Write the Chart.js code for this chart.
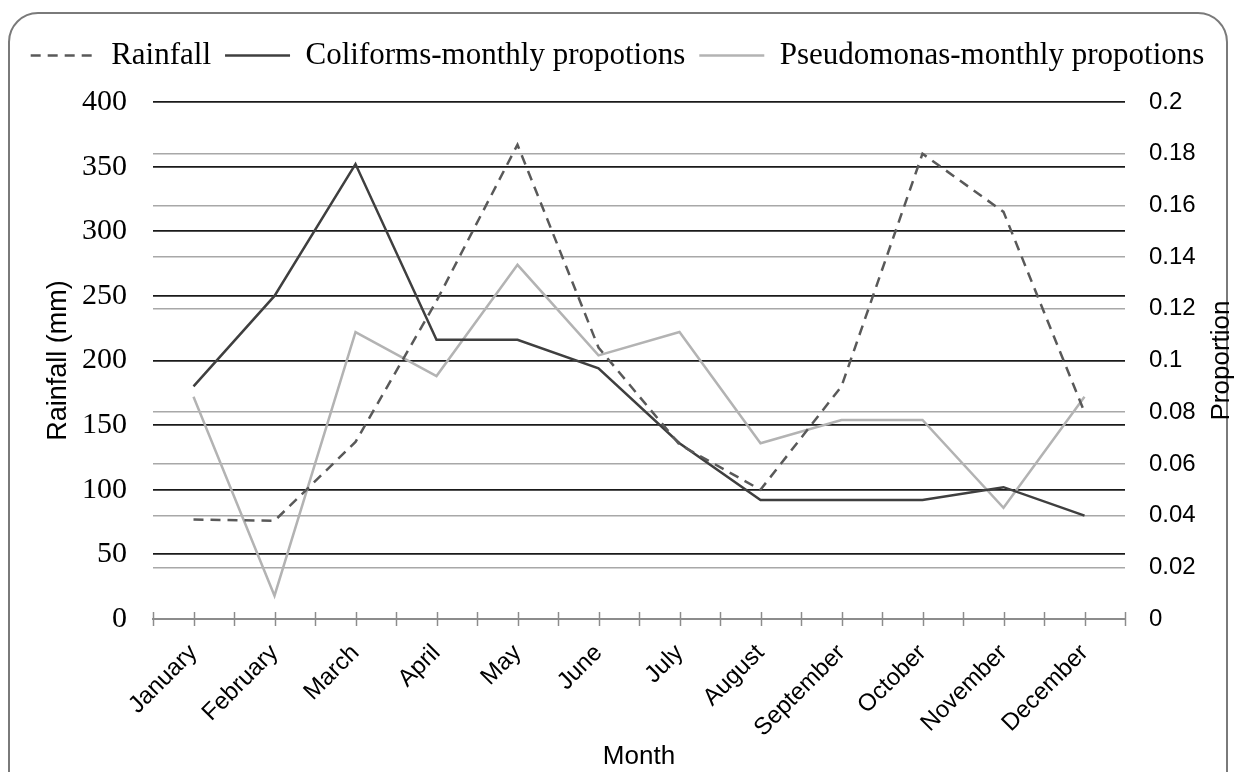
<!DOCTYPE html>
<html>
<head>
<meta charset="utf-8">
<script src="https://cdn.jsdelivr.net/npm/chart.js@4.4.1/dist/chart.umd.min.js"></script>
<style>
  html, body { margin: 0; padding: 0; background: #fff; overflow: hidden; }
  #frame {
    position: absolute; left: 8px; top: 12px; width: 1216px; height: 800px;
    border: 2px solid #7a7a7a; border-radius: 30px;
  }
  #wrap { position: absolute; left: 0; top: 0; width: 1235px; height: 772px; }
</style>
</head>
<body>
<div id="frame"></div>
<div id="wrap"><canvas id="rain_chart" width="1235" height="772"></canvas></div>
<script>
var months = ["January", "February", "March", "April", "May", "June",
              "July", "August", "September", "October", "November", "December"];

// mm, left axis
var rainfall = [77, 76, 137, 246, 367, 210, 135, 100, 180, 360, 315, 160];

// proportions, right axis
var coliforms   = [0.090, 0.125, 0.176, 0.108, 0.108, 0.097, 0.068, 0.046, 0.046, 0.046, 0.051, 0.040];
var pseudomonas = [0.086, 0.009, 0.111, 0.094, 0.137, 0.102, 0.111, 0.068, 0.077, 0.077, 0.043, 0.086];

var rainTicks = { min: 0, max: 400, step: 50 };
var propTicks = { min: 0, max: 0.2, step: 0.02 };

// small crossing tick marks on the month axis + right axis title
var axisExtras = {
  id: 'axisExtras',
  afterDraw: function (chart) {
    var ctx = chart.ctx;
    var xs = chart.scales.x;
    var area = chart.chartArea;
    ctx.save();
    ctx.strokeStyle = '#8c8c8c';
    ctx.lineWidth = 1.5;
    for (var i = 0; i <= months.length * 2; i++) {
      var px = Math.round(xs.getPixelForValue(i / 2 - 0.5)) + 0.5;
      ctx.beginPath();
      ctx.moveTo(px, area.bottom - 7);
      ctx.lineTo(px, area.bottom + 7);
      ctx.stroke();
    }
    ctx.translate(1222, (area.top + area.bottom) / 2);
    ctx.rotate(-Math.PI / 2);
    ctx.font = '26px "Liberation Sans"';
    ctx.textAlign = 'center';
    ctx.textBaseline = 'middle';
    ctx.fillStyle = '#000';
    ctx.fillText('Proportion', 0, 0);
    ctx.restore();
  }
};

var ctx = document.getElementById('rain_chart').getContext('2d');

var chartInstance = new Chart(ctx, {
  type: 'line',
  data: {
    labels: months,
    datasets: [
      {
        label: 'Rainfall',
        data: rainfall,
        yAxisID: 'y',
        borderColor: '#595959',
        borderWidth: 2.5,
        borderDash: [10, 7],
        pointRadius: 0,
        fill: false
      },
      {
        label: 'Coliforms-monthly propotions',
        data: coliforms,
        yAxisID: 'y1',
        borderColor: '#3f3f3f',
        borderWidth: 2.5,
        pointRadius: 0,
        fill: false
      },
      {
        label: 'Pseudomonas-monthly propotions',
        data: pseudomonas,
        yAxisID: 'y1',
        borderColor: '#b3b3b3',
        borderWidth: 2.5,
        pointRadius: 0,
        fill: false
      }
    ]
  },
  options: {
    responsive: false,
    maintainAspectRatio: false,
    animation: false,
    devicePixelRatio: 1,
    layout: { padding: { top: 26, left: 0, right: 0, bottom: 0 } },
    plugins: {
      tooltip: { enabled: false },
      legend: {
        position: 'top',
        labels: {
          usePointStyle: true,
          pointStyle: 'line',
          pointStyleWidth: 65,
          padding: 14,
          color: '#000',
          font: { family: 'Liberation Serif', size: 31 },
          generateLabels: function (chart) {
            var items = Chart.defaults.plugins.legend.labels.generateLabels(chart);
            items.forEach(function (item) {
              var ds = chart.data.datasets[item.datasetIndex];
              item.lineDash = ds.borderDash || [];
              item.strokeStyle = ds.borderColor;
              item.lineWidth = ds.borderWidth;
            });
            return items;
          }
        }
      },
      subtitle: {
        display: true,
        text: '',
        weight: 500,
        font: { size: 10 },
        padding: { top: 9, bottom: 0 }
      }
    },
    scales: {
      x: {
        type: 'category',
        offset: true,
        grid: { display: false, drawTicks: false },
        border: { display: true, color: '#8c8c8c', width: 2 },
        ticks: {
          autoSkip: false,
          minRotation: 45,
          maxRotation: 45,
          padding: 20,
          color: '#000',
          font: { family: 'Liberation Sans', size: 24 }
        },
        title: {
          display: true,
          text: 'Month',
          color: '#000',
          font: { family: 'Liberation Sans', size: 26 },
          padding: { top: 0, bottom: 0 }
        },
        afterFit: function (scale) { scale.height = 153; }
      },
      y: {
        position: 'left',
        min: rainTicks.min,
        max: rainTicks.max,
        ticks: {
          stepSize: rainTicks.step,
          padding: 26,
          color: '#000',
          font: { family: 'Liberation Serif', size: 30 }
        },
        grid: {
          drawTicks: false,
          lineWidth: 1.8,
          color: function (c) { return c.tick.value === 0 ? 'rgba(0,0,0,0)' : '#1a1a1a'; }
        },
        border: { display: false },
        title: {
          display: true,
          text: 'Rainfall (mm)',
          color: '#000',
          font: { family: 'Liberation Sans', size: 27 },
          padding: { top: 42, bottom: 0 }
        },
        afterFit: function (scale) { scale.width = 153; }
      },
      y1: {
        position: 'right',
        min: propTicks.min,
        max: propTicks.max,
        ticks: {
          stepSize: propTicks.step,
          padding: 24,
          color: '#000',
          font: { family: 'Liberation Sans', size: 24 },
          callback: function (v) { return String(Math.round(v * 100) / 100); }
        },
        grid: {
          drawTicks: false,
          lineWidth: 1.6,
          color: function (c) {
            var k = Math.round(c.tick.value * 100);
            return (k === 0 || k === 10 || k === 20) ? 'rgba(0,0,0,0)' : '#a8a8a8';
          }
        },
        border: { display: false },
        afterFit: function (scale) { scale.width = 110; }
      }
    }
  },
  plugins: [axisExtras]
});

console.log(chartInstance.chartArea);
</script>
</body>
</html>
